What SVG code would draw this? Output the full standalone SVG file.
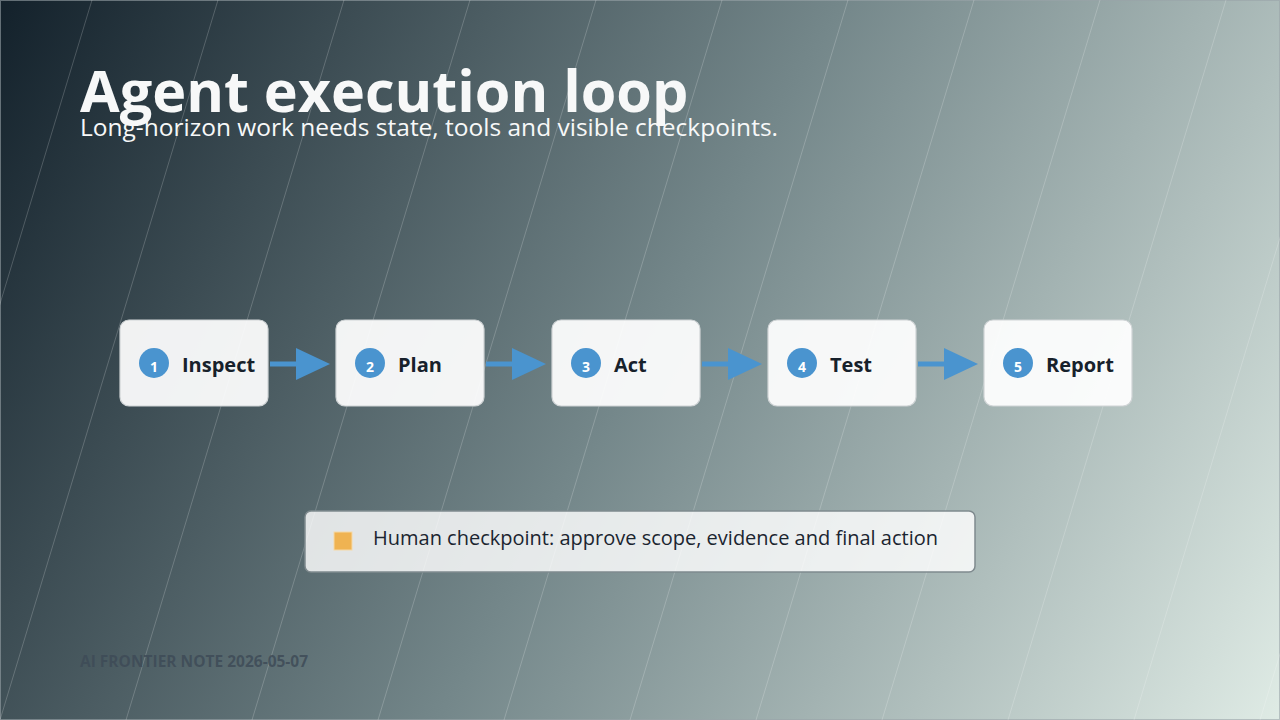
<svg xmlns="http://www.w3.org/2000/svg" width="1280" height="720" viewBox="0 0 1280 720">
  <defs>
    <linearGradient id="bg" x1="0" y1="0" x2="1280" y2="720" gradientUnits="userSpaceOnUse">
      <stop offset="0" stop-color="#13212b"/>
      <stop offset="0.5" stop-color="#74878a"/>
      <stop offset="1" stop-color="#dfebe5"/>
    </linearGradient>
    <style>
      .stripe { stroke: #ffffff; stroke-opacity: 0.2; stroke-width: 1; }
      .node rect { fill: #ffffff; fill-opacity: 0.93; stroke: #d0d4d6; stroke-width: 1.2; }
      .node circle { fill: #4a94cf; }
      .num { font-family: "Open Sans", "Noto Sans", sans-serif; font-weight: 700; font-size: 14px; fill: #ffffff; text-anchor: middle; }
      .label { font-family: "Open Sans", "Noto Sans", sans-serif; font-weight: 700; font-size: 20px; fill: #17212b; }
      .conn line { stroke: #4a94cf; stroke-width: 5; }
      .conn polygon { fill: #4a94cf; }
    </style>
  </defs>
  <rect x="0" y="0" width="1280" height="720" fill="url(#bg)"/>
  <rect x="0.5" y="0.5" width="1279" height="719" fill="none" stroke="#9aa4a8" stroke-opacity="0.6"/>
  <g id="stripes">
    <line class="stripe" x1="92" y1="0" x2="-126" y2="720"/>
    <line class="stripe" x1="218" y1="0" x2="0" y2="720"/>
    <line class="stripe" x1="344" y1="0" x2="126" y2="720"/>
    <line class="stripe" x1="470" y1="0" x2="252" y2="720"/>
    <line class="stripe" x1="596" y1="0" x2="378" y2="720"/>
    <line class="stripe" x1="722" y1="0" x2="504" y2="720"/>
    <line class="stripe" x1="848" y1="0" x2="630" y2="720"/>
    <line class="stripe" x1="974" y1="0" x2="756" y2="720"/>
    <line class="stripe" x1="1100" y1="0" x2="882" y2="720"/>
    <line class="stripe" x1="1226" y1="0" x2="1008" y2="720"/>
    <line class="stripe" x1="1352" y1="0" x2="1134" y2="720"/>
    <line class="stripe" x1="1478" y1="0" x2="1260" y2="720"/>
  </g>
  <g id="title">
    <text x="80" y="112" font-family="Open Sans, Noto Sans, sans-serif" font-weight="700" font-size="57.5" fill="#f7f8f8">Agent execution loop</text>
    <text x="80" y="136" font-family="Open Sans, Noto Sans, sans-serif" font-size="24.5" fill="#f7f8f8">Long-horizon work needs state, tools and visible checkpoints.</text>
  </g>
  <g id="connectors" class="conn">
    <line x1="270" y1="364" x2="298" y2="364"/>
    <polygon points="296,348 330,364 296,380"/>
    <line x1="486" y1="364" x2="514" y2="364"/>
    <polygon points="512,348 546,364 512,380"/>
    <line x1="702" y1="364" x2="730" y2="364"/>
    <polygon points="728,348 762,364 728,380"/>
    <line x1="918" y1="364" x2="946" y2="364"/>
    <polygon points="944,348 978,364 944,380"/>
  </g>
  <g id="node1" class="node">
    <rect x="120" y="320" width="148" height="86" rx="9"/>
    <circle cx="154" cy="363" r="15"/>
    <text class="num" x="154" y="372">1</text>
    <text class="label" x="182" y="372">Inspect</text>
  </g>
  <g id="node2" class="node">
    <rect x="336" y="320" width="148" height="86" rx="9"/>
    <circle cx="370" cy="363" r="15"/>
    <text class="num" x="370" y="372">2</text>
    <text class="label" x="398" y="372">Plan</text>
  </g>
  <g id="node3" class="node">
    <rect x="552" y="320" width="148" height="86" rx="9"/>
    <circle cx="586" cy="363" r="15"/>
    <text class="num" x="586" y="372">3</text>
    <text class="label" x="614" y="372">Act</text>
  </g>
  <g id="node4" class="node">
    <rect x="768" y="320" width="148" height="86" rx="9"/>
    <circle cx="802" cy="363" r="15"/>
    <text class="num" x="802" y="372">4</text>
    <text class="label" x="830" y="372">Test</text>
  </g>
  <g id="node5" class="node">
    <rect x="984" y="320" width="148" height="86" rx="9"/>
    <circle cx="1018" cy="363" r="15"/>
    <text class="num" x="1018" y="372">5</text>
    <text class="label" x="1046" y="372">Report</text>
  </g>
  <g id="checkpoint">
    <rect x="305" y="511" width="670" height="61" rx="6" fill="#ffffff" fill-opacity="0.82" stroke="#7f8a8e" stroke-width="1.5"/>
    <rect x="334" y="532" width="18" height="18" fill="#efb352" stroke="#f6d9a6" stroke-width="1"/>
    <text x="373" y="545" font-family="Open Sans, Noto Sans, sans-serif" font-size="20" fill="#1b2530">Human checkpoint: approve scope, evidence and final action</text>
  </g>
  <g id="footer">
    <text x="80" y="667" font-family="Open Sans, Noto Sans, sans-serif" font-weight="700" font-size="15.5" fill="#3e4b57" fill-opacity="0.85">AI FRONTIER NOTE 2026-05-07</text>
  </g>
</svg>
